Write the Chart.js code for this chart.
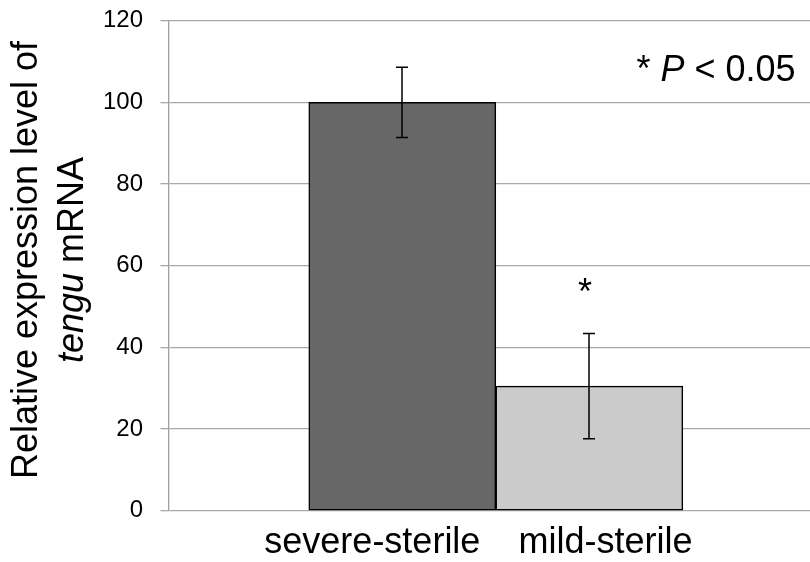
<!DOCTYPE html>
<html>
<head>
<meta charset="utf-8">
<title>tengu mRNA expression</title>
<script src="https://cdn.jsdelivr.net/npm/chart.js@4/dist/chart.umd.min.js"></script>
<style>
  html, body { margin: 0; padding: 0; background: #ffffff; overflow: hidden; }
  #wrap { width: 810px; height: 562px; position: relative; }
</style>
</head>
<body>
<div id="wrap"><canvas id="chart"></canvas></div>
<script>
// Relative expression of tengu mRNA (mean ± error) per group
const categories = ['severe-sterile', 'mild-sterile'];
const meanValues = [100, 30.5];
const errorValues = [8.6, 12.9];
const significant = [false, true];
const yTickValues = [0, 20, 40, 60, 80, 100, 120];

const FONT = "'Liberation Sans', Arial, Helvetica, sans-serif";

// Both bars sit side by side inside one wide category band (gap on either side)
const BAR_START = 1.25;           // centre of the first bar, in bar-width units
const LABEL_SHIFT = [-0.16, 0.087]; // label nudges relative to each bar centre

// Draws a run of text segments, some italic, starting at (x, y)
function drawRuns(ctx, runs, x, y, size, align) {
  const fontFor = (italic) => (italic ? 'italic ' : '') + size + 'px ' + FONT;
  let total = 0;
  runs.forEach(([t, it]) => { ctx.font = fontFor(it); total += ctx.measureText(t).width; });
  let cx = align === 'center' ? x - total / 2 : x;
  ctx.textAlign = 'left';
  runs.forEach(([t, it]) => {
    ctx.font = fontFor(it);
    ctx.fillText(t, cx, y);
    cx += ctx.measureText(t).width;
  });
}

const annotations = {
  id: 'annotations',
  afterDatasetsDraw(chart) {
    const { ctx, scales: { y } } = chart;
    const meta = chart.getDatasetMeta(0);
    ctx.save();
    ctx.strokeStyle = '#000000';
    ctx.fillStyle = '#000000';
    ctx.lineWidth = 1.5;
    meta.data.forEach((bar, i) => {
      const hi = y.getPixelForValue(meanValues[i] + errorValues[i]);
      const lo = y.getPixelForValue(meanValues[i] - errorValues[i]);
      const cx = Math.round(bar.x);
      ctx.beginPath();
      ctx.moveTo(cx, hi); ctx.lineTo(cx, lo);
      ctx.moveTo(cx - 6, hi); ctx.lineTo(cx + 6, hi);
      ctx.moveTo(cx - 6, lo); ctx.lineTo(cx + 6, lo);
      ctx.stroke();
      if (significant[i]) {
        ctx.font = '36px ' + FONT;
        ctx.textAlign = 'center';
        ctx.textBaseline = 'alphabetic';
        ctx.fillText('*', cx - 4, hi - 29);
      }
    });
    ctx.textBaseline = 'alphabetic';
    drawRuns(ctx, [['* ', false], ['P', true], [' < 0.05', false]], 636.5, 81, 36, 'left');
    ctx.restore();
  },
  afterDraw(chart) {
    const { ctx } = chart;
    ctx.save();
    ctx.fillStyle = '#000000';
    ctx.textBaseline = 'alphabetic';
    const midY = 260;
    // first line
    ctx.save();
    ctx.translate(37, midY);
    ctx.rotate(-Math.PI / 2);
    drawRuns(ctx, [['Relative expression level of', false]], 0, 0, 36, 'center');
    ctx.restore();
    // second line
    ctx.save();
    ctx.translate(83, midY);
    ctx.rotate(-Math.PI / 2);
    drawRuns(ctx, [['tengu', true], [' mRNA', false]], 0, 0, 36, 'center');
    ctx.restore();
    ctx.restore();
  }
};

new Chart(document.getElementById('chart'), {
  type: 'bar',
  data: {
    datasets: [{
      data: meanValues.map((v, i) => ({ x: BAR_START + i, y: v })),
      backgroundColor: ['#676767', '#cbcbcb'],
      borderColor: '#000000',
      borderWidth: 1.5,
      borderSkipped: false,
      barPercentage: 1,
      categoryPercentage: 1
    }]
  },
  options: {
    responsive: true,
    maintainAspectRatio: false,
    animation: false,
    devicePixelRatio: 1,
    layout: { padding: { left: 0, right: 0, top: 20.7, bottom: 0 } },
    plugins: { legend: { display: false }, tooltip: { enabled: false } },
    scales: {
      x: {
        type: 'linear',
        min: 0,
        max: 3.43,
        offset: false,
        grid: { display: false, drawTicks: false },
        border: { display: false },
        afterBuildTicks: (scale) => {
          scale.ticks = categories.map((_, i) => ({ value: BAR_START + i + LABEL_SHIFT[i] }));
        },
        afterFit: (scale) => { scale.height = 51.3; },
        ticks: {
          autoSkip: false,
          maxRotation: 0,
          padding: 11,
          color: '#000000',
          font: { family: FONT, size: 36, lineHeight: 1.2 },
          callback: (value, index) => categories[index]
        }
      },
      y: {
        min: 0,
        max: 120,
        afterBuildTicks: (scale) => {
          scale.ticks = yTickValues.map(v => ({ value: v }));
        },
        afterFit: (scale) => {
          scale.width = 168.5;
          scale.paddingTop = 0;
          scale.paddingBottom = 0;
        },
        grid: {
          color: '#a9a9a9',
          lineWidth: 1.3,
          drawTicks: true,
          tickLength: 8,
          tickColor: '#a9a9a9'
        },
        border: { display: true, color: '#a0a0a0', width: 1.3 },
        ticks: {
          padding: 17.5,
          color: '#000000',
          font: { family: FONT, size: 24 }
        }
      }
    }
  },
  plugins: [annotations]
});
</script>
</body>
</html>
